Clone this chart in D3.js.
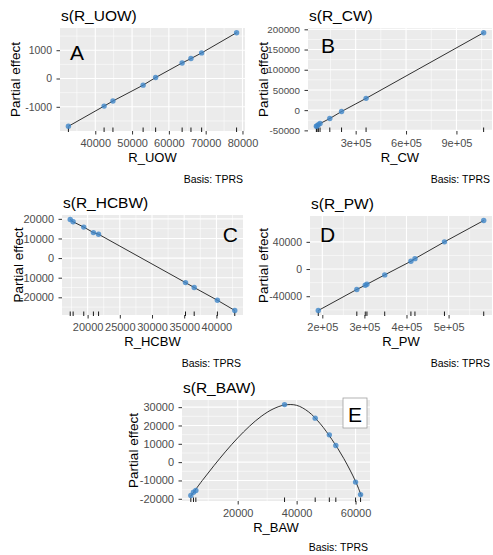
<!DOCTYPE html>
<html>
<head>
<meta charset="utf-8">
<script src="https://cdn.jsdelivr.net/npm/d3@7"></script>
<style>
body { margin: 0; background: #fff; }
text { font-family: "Liberation Sans", Arial, sans-serif; }
</style>
</head>
<body>
<svg id="chart" width="493" height="555"></svg>
<script>
// data
var uowX = [32700, 42400, 44800, 53000, 56400, 63600, 66000, 68900, 78400];
var uowY = [-1690, -975, -795, -235, 35, 550, 705, 905, 1620];
var uowXTicks = [40000, 50000, 60000, 70000, 80000];
var uowXLabels = ["40000", "50000", "60000", "70000", "80000"];
var uowYTicks = [-1000, 0, 1000];

var cwX = [66000, 70000, 78000, 88000, 146000, 216000, 362000, 1062000];
var cwY = [-40000, -39000, -35700, -33200, -20700, -3300, 29200, 191700];
var cwXTicks = [300000, 600000, 900000];
var cwXLabels = ["3e+05", "6e+05", "9e+05"];
var cwYTicks = [-50000, 0, 50000, 100000, 150000, 200000];

var hcbwX = [17300, 17750, 19400, 20900, 21700, 35200, 36550, 40150, 42850];
var hcbwY = [19650, 18500, 15800, 13000, 12150, -12500, -15000, -21500, -26700];
var hcbwXTicks = [20000, 25000, 30000, 35000, 40000];
var hcbwXLabels = ["20000", "25000", "30000", "35000", "40000"];
var hcbwYTicks = [-20000, -10000, 0, 10000, 20000];

var pwX = [190400, 282000, 302000, 306000, 348300, 410500, 420100, 490200, 583500];
var pwY = [-61000, -30000, -23900, -22400, -8600, 11400, 15300, 40000, 71400];
var pwXTicks = [200000, 300000, 400000, 500000];
var pwXLabels = ["2e+05", "3e+05", "4e+05", "5e+05"];
var pwYTicks = [-40000, 0, 40000];

var bawX = [4100, 5000, 5800, 35900, 46300, 51100, 53300, 60000, 61700];
var bawY = [-18200, -16400, -15500, 31400, 24000, 14900, 9100, -10900, -17700];
var bawCurveX = [4000, 8000, 12000, 16000, 20000, 24000, 28000, 32000, 36000, 40000, 44000, 48000, 52000, 56000, 60000, 62000];
var bawCurveY = [-18700, -10000, -1800, 6000, 13200, 19600, 25000, 29000, 31200, 31000, 27500, 21000, 12300, 2000, -10500, -18500];
var bawXTicks = [20000, 40000, 60000];
var bawXLabels = ["20000", "40000", "60000"];
var bawYTicks = [-20000, -10000, 0, 10000, 20000, 30000];

var svg = d3.select("#chart");

function pad(ext) {
    var d = (ext[1] - ext[0]) * 0.05;
    return [ext[0] - d, ext[1] + d];
}

// minor breaks halfway between the majors
function minors(ticks, dom) {
    var step = ticks[1] - ticks[0];
    var out = [];
    var lo = dom[0], hi = dom[1];
    if (lo > hi) { var t = lo; lo = hi; hi = t; }
    for (var v = ticks[0] - step / 2; v > lo; v -= step) out.push(v);
    for (var v2 = ticks[0] + step / 2; v2 < hi; v2 += step) out.push(v2);
    return out;
}

function drawPanel(p) {
    var b = p.box;
    var g = svg.append("g");
    var lineX = p.lineX || p.x, lineY = p.lineY || p.y;
    var x = d3.scaleLinear().domain(pad(d3.extent(p.x.concat(lineX)))).range([b[0], b[2]]);
    var y = d3.scaleLinear().domain(pad(d3.extent(p.y.concat(lineY)))).range([b[3], b[1]]);

    g.append("rect")
    .attr("x", b[0]).attr("y", b[1])
    .attr("width", b[2] - b[0]).attr("height", b[3] - b[1])
    .attr("fill", "#ebebeb");

    // grid
    g.selectAll(".xmin").data(minors(p.xTicks, x.domain())).enter().append("line")
    .attr("x1", d => x(d)).attr("x2", d => x(d)).attr("y1", b[1]).attr("y2", b[3])
    .attr("stroke", "#fff").attr("stroke-width", 0.55);
    g.selectAll(".ymin").data(minors(p.yTicks, y.domain())).enter().append("line")
    .attr("y1", d => y(d)).attr("y2", d => y(d)).attr("x1", b[0]).attr("x2", b[2])
    .attr("stroke", "#fff").attr("stroke-width", 0.55);
    g.selectAll(".xmaj").data(p.xTicks).enter().append("line")
    .attr("x1", d => x(d)).attr("x2", d => x(d)).attr("y1", b[1]).attr("y2", b[3])
    .attr("stroke", "#fff").attr("stroke-width", 1.1);
    g.selectAll(".ymaj").data(p.yTicks).enter().append("line")
    .attr("y1", d => y(d)).attr("y2", d => y(d)).attr("x1", b[0]).attr("x2", b[2])
    .attr("stroke", "#fff").attr("stroke-width", 1.1);

    // rug
    g.selectAll(".rug").data(p.x).enter().append("line")
    .attr("x1", d => x(d)).attr("x2", d => x(d))
    .attr("y1", b[3] - 3.5).attr("y2", b[3] + 1)
    .attr("stroke", "#000").attr("stroke-width", 0.9);

    // fitted smooth
    var pts = lineX.map((v, i) => [v, lineY[i]]).sort((a, c) => a[0] - c[0]);
    g.append("path")
    .datum(pts)
    .attr("d", d3.line().x(d => x(d[0])).y(d => y(d[1])).curve(p.lineX ? d3.curveCatmullRom : d3.curveLinear))
    .attr("fill", "none").attr("stroke", "#000").attr("stroke-width", 0.8);

    // partial residuals
    g.selectAll(".pt").data(p.x).enter().append("circle")
    .attr("cx", d => x(d)).attr("cy", (d, i) => y(p.y[i]))
    .attr("r", 2.7)
    .attr("fill", "#3f86c8").attr("fill-opacity", 0.8);

    // axes
    var ax = g.append("g")
    .attr("transform", "translate(0," + b[3] + ")")
    .call(d3.axisBottom(x).tickValues(p.xTicks).tickFormat((d, i) => p.xLabels[i]).tickSize(3.5).tickPadding(5));
    ax.select(".domain").remove();
    ax.selectAll("line").attr("stroke", "#333");
    ax.selectAll("text").attr("fill", "#4d4d4d").style("font-size", p.xFont + "px").style("font-family", "Liberation Sans, Arial, sans-serif");

    var ay = g.append("g")
    .attr("transform", "translate(" + b[0] + ",0)")
    .call(d3.axisLeft(y).tickValues(p.yTicks).tickFormat(d => String(d)).tickSize(3.5).tickPadding(4.5));
    ay.select(".domain").remove();
    ay.selectAll("line").attr("stroke", "#333");
    ay.selectAll("text").attr("fill", "#4d4d4d").style("font-size", p.yFont + "px").style("font-family", "Liberation Sans, Arial, sans-serif");

    // titles
    g.append("text")
    .attr("x", b[0] + 1).attr("y", b[1] - 7)
    .style("font-size", "15.5px").attr("fill", "#000")
    .text(p.title);
    g.append("text")
    .attr("x", (b[0] + b[2]) / 2).attr("y", b[3] + 31)
    .attr("text-anchor", "middle")
    .style("font-size", "13px")
    .text(p.xTitle);
    g.append("text")
    .attr("transform", "translate(" + (b[0] - p.yTitleOff) + "," + ((b[1] + b[3]) / 2) + ") rotate(-90)")
    .attr("text-anchor", "middle").attr("dy", "0.35em")
    .style("font-size", "13.5px")
    .text("Partial effect");
    g.append("text")
    .attr("x", b[2] - 2).attr("y", b[3] + p.capOff)
    .attr("text-anchor", "end")
    .style("font-size", "10.5px")
    .text("Basis: TPRS");

    // panel letter
    if (p.boxed) {
        g.append("rect")
        .attr("x", p.lab[0] - 12).attr("y", p.lab[1] - 24)
        .attr("width", 24).attr("height", 30)
        .attr("fill", "#fff").attr("stroke", "#a0a0a0").attr("stroke-width", 0.8);
    }
    g.append("text")
    .attr("x", p.lab[0]).attr("y", p.lab[1])
    .attr("text-anchor", p.labAnchor)
    .style("font-size", "21px")
    .text(p.letter);
}

drawPanel({ box: [60, 28, 245, 131], x: uowX, y: uowY, xTicks: uowXTicks, xLabels: uowXLabels, yTicks: uowYTicks,
    title: "s(R_UOW)", xTitle: "R_UOW", letter: "A", lab: [70, 60], labAnchor: "start",
    xFont: 11, yFont: 10.5, yTitleOff: 45, capOff: 52 });
drawPanel({ box: [308, 28, 492, 131], x: cwX, y: cwY, xTicks: cwXTicks, xLabels: cwXLabels, yTicks: cwYTicks,
    title: "s(R_CW)", xTitle: "R_CW", letter: "B", lab: [321, 53], labAnchor: "start",
    xFont: 11, yFont: 9.8, yTitleOff: 45, capOff: 52 });
drawPanel({ box: [62, 215, 243, 315], x: hcbwX, y: hcbwY, xTicks: hcbwXTicks, xLabels: hcbwXLabels, yTicks: hcbwYTicks,
    title: "s(R_HCBW)", xTitle: "R_HCBW", letter: "C", lab: [238, 242], labAnchor: "end",
    xFont: 11, yFont: 11, yTitleOff: 44, capOff: 52 });
drawPanel({ box: [310, 216, 492, 315], x: pwX, y: pwY, xTicks: pwXTicks, xLabels: pwXLabels, yTicks: pwYTicks,
    title: "s(R_PW)", xTitle: "R_PW", letter: "D", lab: [320, 242], labAnchor: "start",
    xFont: 11, yFont: 10.5, yTitleOff: 47, capOff: 52 });
drawPanel({ box: [182, 400, 370, 501], x: bawX, y: bawY, lineX: bawCurveX, lineY: bawCurveY,
    xTicks: bawXTicks, xLabels: bawXLabels, yTicks: bawYTicks,
    title: "s(R_BAW)", xTitle: "R_BAW", letter: "E", lab: [355, 422], labAnchor: "middle", boxed: true,
    xFont: 11, yFont: 11, yTitleOff: 49, capOff: 50 });
</script>
</body>
</html>
